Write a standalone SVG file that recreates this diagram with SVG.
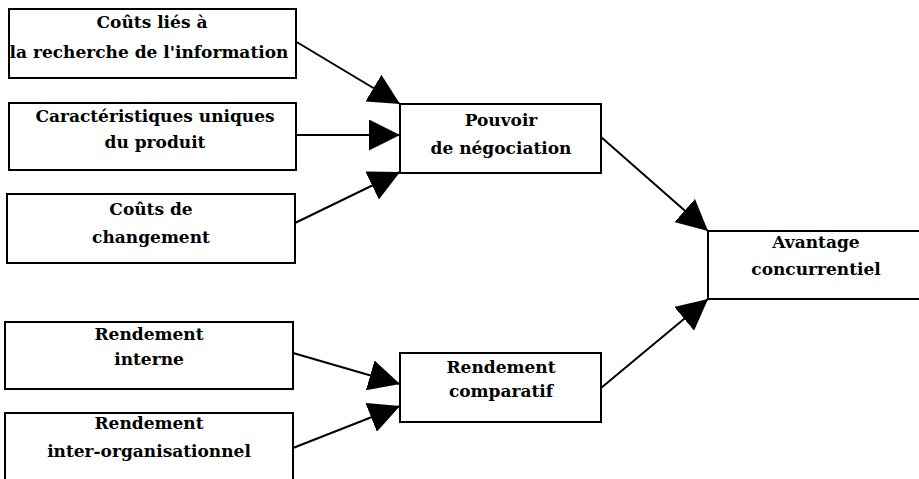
<svg xmlns="http://www.w3.org/2000/svg" width="919" height="479" viewBox="0 0 919 479">
<style>
.box{fill:#fff;stroke:#000;stroke-width:2}
.t{font-family:"DejaVu Serif","Liberation Serif",serif;font-weight:bold;font-size:17px;fill:#000;text-anchor:middle}
.c{stroke:#000;stroke-width:2;fill:none;marker-end:url(#ah)}
</style>
<defs>
<marker id="ah" markerUnits="userSpaceOnUse" markerWidth="31" markerHeight="31" refX="31" refY="15.5" orient="auto">
<path d="M0,0 L31,15.5 L0,31 z" fill="#000"/>
</marker>
</defs>
<rect width="919" height="479" fill="#fff"/>
<g id="connectors">
<line class="c" x1="295" y1="41" x2="400" y2="104"/>
<line class="c" x1="296" y1="135" x2="400" y2="135"/>
<line class="c" x1="295" y1="223" x2="400" y2="172"/>
<line class="c" x1="601" y1="137" x2="708" y2="231"/>
<line class="c" x1="293" y1="353" x2="400" y2="384"/>
<line class="c" x1="293" y1="448" x2="400" y2="406"/>
<line class="c" x1="601" y1="388" x2="708" y2="299"/>
</g>
<g id="n1"><rect class="box" x="9" y="9" width="287" height="69"/>
<text class="t" x="152" y="28">Coûts liés à</text><text class="t" x="149" y="58">la recherche de l'information</text></g>
<g id="n2"><rect class="box" x="9" y="103" width="287" height="67"/>
<text class="t" x="155" y="122">Caractéristiques uniques</text><text class="t" x="155" y="148">du produit</text></g>
<g id="n3"><rect class="box" x="7" y="194" width="288" height="69"/>
<text class="t" x="151" y="215">Coûts de</text><text class="t" x="151" y="243">changement</text></g>
<g id="n4"><rect class="box" x="400" y="104" width="201" height="69"/>
<text class="t" x="501" y="126">Pouvoir</text><text class="t" x="501" y="154">de négociation</text></g>
<g id="n5"><rect class="box" x="708" y="231" width="220" height="68"/>
<text class="t" x="816" y="248">Avantage</text><text class="t" x="816" y="275">concurrentiel</text></g>
<g id="n6"><rect class="box" x="5" y="322" width="288" height="67"/>
<text class="t" x="149" y="340">Rendement</text><text class="t" x="149" y="365">interne</text></g>
<g id="n7"><rect class="box" x="400" y="353" width="201" height="69"/>
<text class="t" x="501" y="373">Rendement</text><text class="t" x="501" y="397">comparatif</text></g>
<g id="n8"><rect class="box" x="5" y="413" width="288" height="70"/>
<text class="t" x="149" y="429">Rendement</text><text class="t" x="149" y="457">inter-organisationnel</text></g>
</svg>
